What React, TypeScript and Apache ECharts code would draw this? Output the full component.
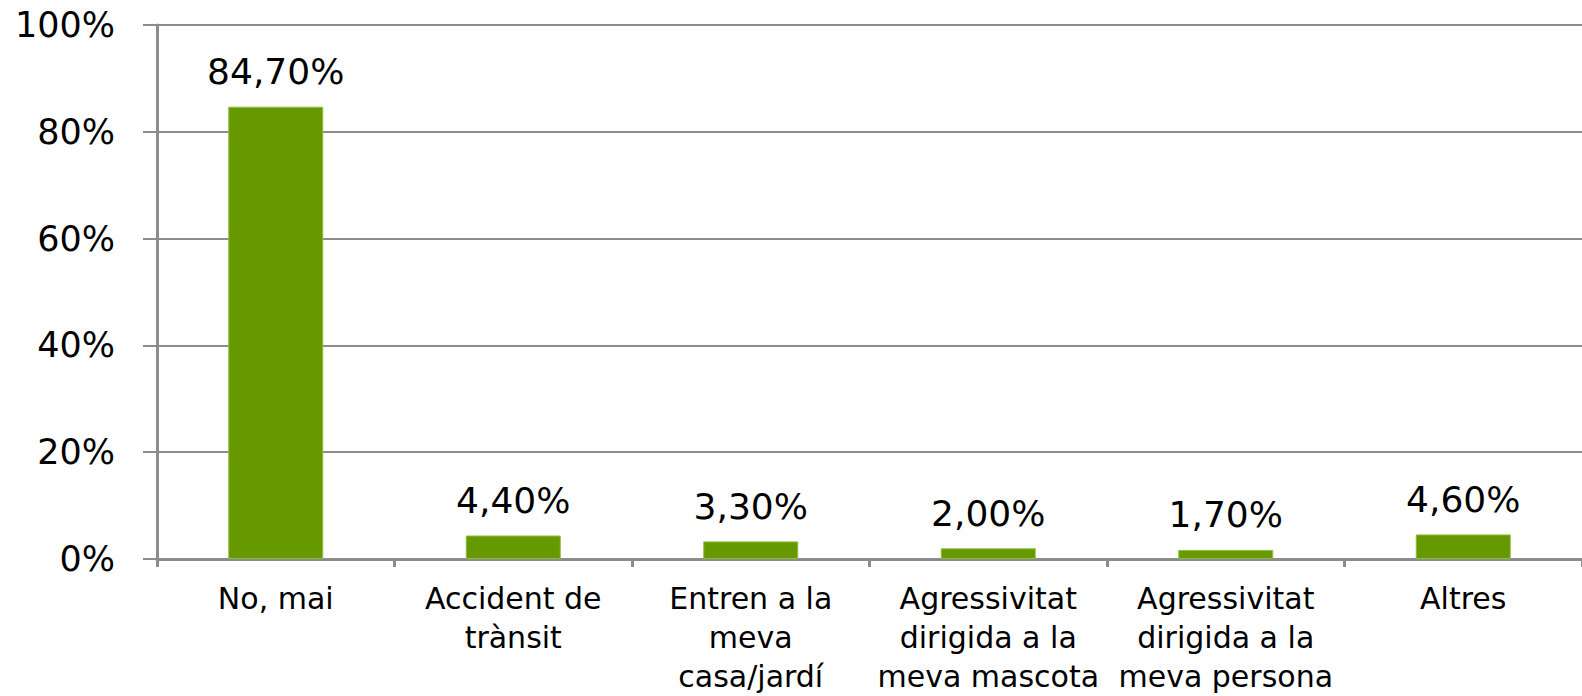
import React, { useEffect, useRef } from "react";
import * as echarts from "echarts";

const categories = [
  "No, mai",
  "Accident de\ntrànsit",
  "Entren a la\nmeva\ncasa/jardí",
  "Agressivitat\ndirigida a la\nmeva mascota",
  "Agressivitat\ndirigida a la\nmeva persona",
  "Altres",
];
const values = [84.7, 4.4, 3.3, 2.0, 1.7, 4.6];
const yTicks = [0, 20, 40, 60, 80, 100];

const FONT = "DejaVu Sans";
const GREY = "#8c8c8c";

export default function App() {
  const ref = useRef<HTMLDivElement>(null);
  useEffect(() => {
    document.body.style.margin = "0";
    if (!ref.current) return;
    const chart = echarts.init(ref.current, null, { renderer: "svg" });
    chart.setOption({
      animation: false,
      backgroundColor: "#ffffff",
      grid: { left: 157, top: 25, height: 540, width: 1442, containLabel: false },
      xAxis: {
        type: "category",
        data: categories,
        axisLine: { show: true, lineStyle: { color: GREY, width: 3 } },
        axisTick: { show: true, length: 8, interval: 0, lineStyle: { color: GREY, width: 3 } },
        axisLabel: {
          interval: 0,
          margin: 20,
          fontFamily: FONT,
          fontSize: 30,
          lineHeight: 39,
          color: "#000000",
        },
      },
      yAxis: {
        type: "value",
        min: yTicks[0],
        max: yTicks[yTicks.length - 1],
        interval: 20,
        axisLine: { show: true, lineStyle: { color: GREY, width: 3 } },
        axisTick: { show: true, length: 14, lineStyle: { color: GREY, width: 2 } },
        splitLine: { show: true, lineStyle: { color: GREY, width: 2 } },
        axisLabel: {
          margin: 42,
          fontFamily: FONT,
          fontSize: 35,
          color: "#000000",
          formatter: (v: number) => v + "%",
        },
      },
      series: [
        {
          type: "bar",
          data: values,
          barWidth: 95,
          itemStyle: { color: "#669900", borderColor: "#8fbf3a", borderWidth: 1 },
          label: {
            show: true,
            position: "top",
            distance: 17,
            fontFamily: FONT,
            fontSize: 36,
            color: "#000000",
            formatter: (p: any) => p.value.toFixed(2).replace(".", ",") + "%",
          },
        },
      ],
    });
    return () => chart.dispose();
  }, []);
  return <div ref={ref} style={{ width: 1582, height: 696 }} />;
}
